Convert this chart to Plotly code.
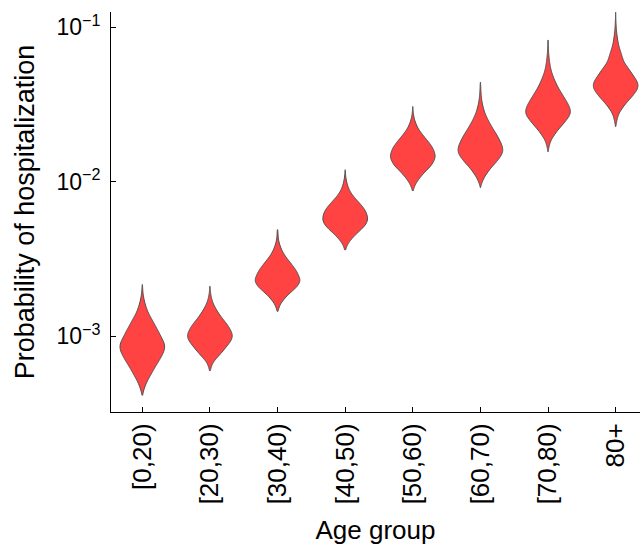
import numpy as np
import plotly.graph_objects as go

age_groups = ["[0,20)", "[20,30)", "[30,40)", "[40,50)", "[50,60)", "[60,70)", "[70,80)", "80+"]

# Posterior samples of the hospitalization probability, summarised as a histogram in
# log10(p): counts per 0.03-decade bin, lowest bin per group.
BIN = 0.03
lowest_bin = [-3.365, -3.205, -2.818, -2.426, -2.047, -2.004, -1.787, -1.614]
counts_0_20 = [3, 9, 17, 27, 39, 50, 62, 75, 86, 96, 100, 94, 83, 73, 62, 51, 40, 28, 20, 13, 8, 4, 2, 1]
counts_20_30 = [4, 11, 26, 46, 62, 79, 94, 100, 92, 81, 65, 49, 35, 23, 13, 7, 3, 1]
counts_30_40 = [5, 13, 29, 46, 72, 90, 100, 91, 82, 68, 52, 36, 23, 14, 7, 3, 2, 1]
counts_40_50 = [4, 14, 30, 50, 73, 92, 100, 97, 89, 74, 55, 37, 22, 13, 7, 3, 1]
counts_50_60 = [3, 11, 24, 40, 59, 80, 92, 100, 94, 86, 71, 54, 38, 23, 14, 7, 3, 1]
counts_60_70 = [7, 16, 29, 44, 63, 80, 95, 100, 95, 85, 75, 62, 50, 38, 28, 19, 13, 8, 5, 3, 2, 1]
counts_70_80 = [2, 7, 14, 28, 42, 60, 77, 93, 100, 94, 84, 71, 59, 46, 36, 27, 19, 13, 9, 6, 4, 2, 1]
counts_80p = [4, 8, 15, 29, 44, 63, 80, 95, 100, 92, 77, 64, 49, 35, 29, 23, 16, 11, 8, 5, 3, 2, 1]

counts = [counts_0_20, counts_20_30, counts_30_40, counts_40_50,
          counts_50_60, counts_60_70, counts_70_80, counts_80p]

# visible extent (tail tips) of each violin, log10(p)
span_low = [-3.381, -3.222, -2.838, -2.440, -2.057, -2.037, -1.805, -1.643]
span_high = [-2.666, -2.677, -2.311, -1.923, -1.514, -1.357, -1.083, -0.904]

# y axis in log10(p), labelled as powers of ten
y_tick_exponents = [-3, -2, -1]
y_tick_labels = ["10<sup>−3</sup>", "10<sup>−2</sup>", "10<sup>−1</sup>"]
y_range = [-3.49, -0.902]

FONT = "Liberation Sans, Arial, sans-serif"

fig = go.Figure()
for name, lo_bin, cnt, lo, hi in zip(age_groups, lowest_bin, counts, span_low, span_high):
    levels = lo_bin + BIN * np.arange(len(cnt))
    vals = np.repeat(levels, cnt)
    fig.add_trace(go.Violin(
        x=[name] * len(vals),
        y=vals,
        name=name,
        fillcolor="#ff4242",
        line=dict(color="#505050", width=1),
        opacity=1,
        points=False,
        box=dict(visible=False),
        meanline=dict(visible=False),
        spanmode="manual",
        span=[lo, hi],
        bandwidth=0.02,
        width=0.66,
        scalemode="width",
        showlegend=False,
        hoverinfo="skip",
    ))

fig.update_layout(
    width=640, height=548,
    margin=dict(l=111, r=0, t=12, b=136),
    paper_bgcolor="white", plot_bgcolor="white",
    font=dict(family=FONT, size=26, color="black"),
    violinmode="overlay",
    xaxis=dict(
        type="category",
        categoryorder="array", categoryarray=age_groups,
        range=[-0.463, 7.36],
        showline=True, linecolor="black", linewidth=1,
        ticks="inside", ticklen=5, tickcolor="black",
        tickangle=-90, tickfont=dict(size=26),
        ticklabelstandoff=0,
        showgrid=False, zeroline=False,
        title=dict(text="Age group", font=dict(size=26), standoff=17),
    ),
    yaxis=dict(
        range=y_range,
        tickvals=y_tick_exponents, ticktext=y_tick_labels,
        showline=True, linecolor="black", linewidth=1,
        ticks="inside", ticklen=5, tickcolor="black",
        tickfont=dict(size=23),
        ticklabelstandoff=5,
        showgrid=False, zeroline=False,
        title=dict(text="Probability of hospitalization", font=dict(size=27), standoff=13),
    ),
)

fig.write_html("out.html", config={"displayModeBar": False},
               post_script="document.body.style.margin='0';")
